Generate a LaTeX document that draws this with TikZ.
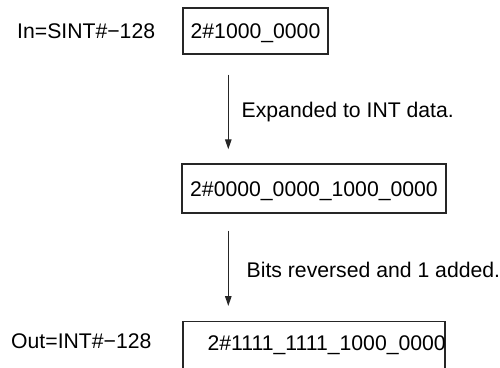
\documentclass[tikz,border=0pt]{standalone}
\usepackage{fontspec}
\setmainfont{Liberation Sans}
\usetikzlibrary{arrows.meta}
\begin{document}
\begin{tikzpicture}[x=1pt,y=-1pt,
  every node/.style={font=\fontsize{21.2}{25}\selectfont, text=black},
  valbox/.style={draw=black!85, line width=1.4pt, inner sep=0pt, text height=15pt, text depth=0pt},
  lbl/.style={anchor=base west, inner sep=0pt},
  arr/.style={draw=black!85, line width=1.3pt, -{Triangle[length=10pt,width=6.5pt]}}]
\useasboundingbox (0,0) rectangle (500,367);
\clip (0,0) rectangle (500,367);
\node[valbox, minimum width=145pt, minimum height=46pt] (box1) at (255.5,31) {2\#1000\_0000};
\node[lbl] (inlbl) at (17,38) {In=SINT\#−128};
\node[valbox, minimum width=264pt, minimum height=49pt] (box2) at (314,188.5) {2\#0000\_0000\_1000\_0000};
\node[valbox, minimum width=262pt, minimum height=70pt, anchor=north] (box3) at (314,321) {};
\node[anchor=base east, inner sep=0pt] (t3) at (446,350) {2\#1111\_1111\_1000\_0000};
\node[lbl] (outlbl) at (11,348) {Out=INT\#−128};
\draw[arr] ([xshift=46pt,yshift=-20pt]box1.south west) -- ([xshift=47pt,yshift=14pt]box2.north west);
\node[lbl] (exp) at (241.5,117) {Expanded to INT data.};
\draw[arr] ([xshift=47pt,yshift=-17pt]box2.south west) -- ([xshift=46pt,yshift=15pt]box3.north west);
\node[lbl] (bits) at (246.5,277) {Bits reversed and 1 added.};
\end{tikzpicture}
\end{document}
